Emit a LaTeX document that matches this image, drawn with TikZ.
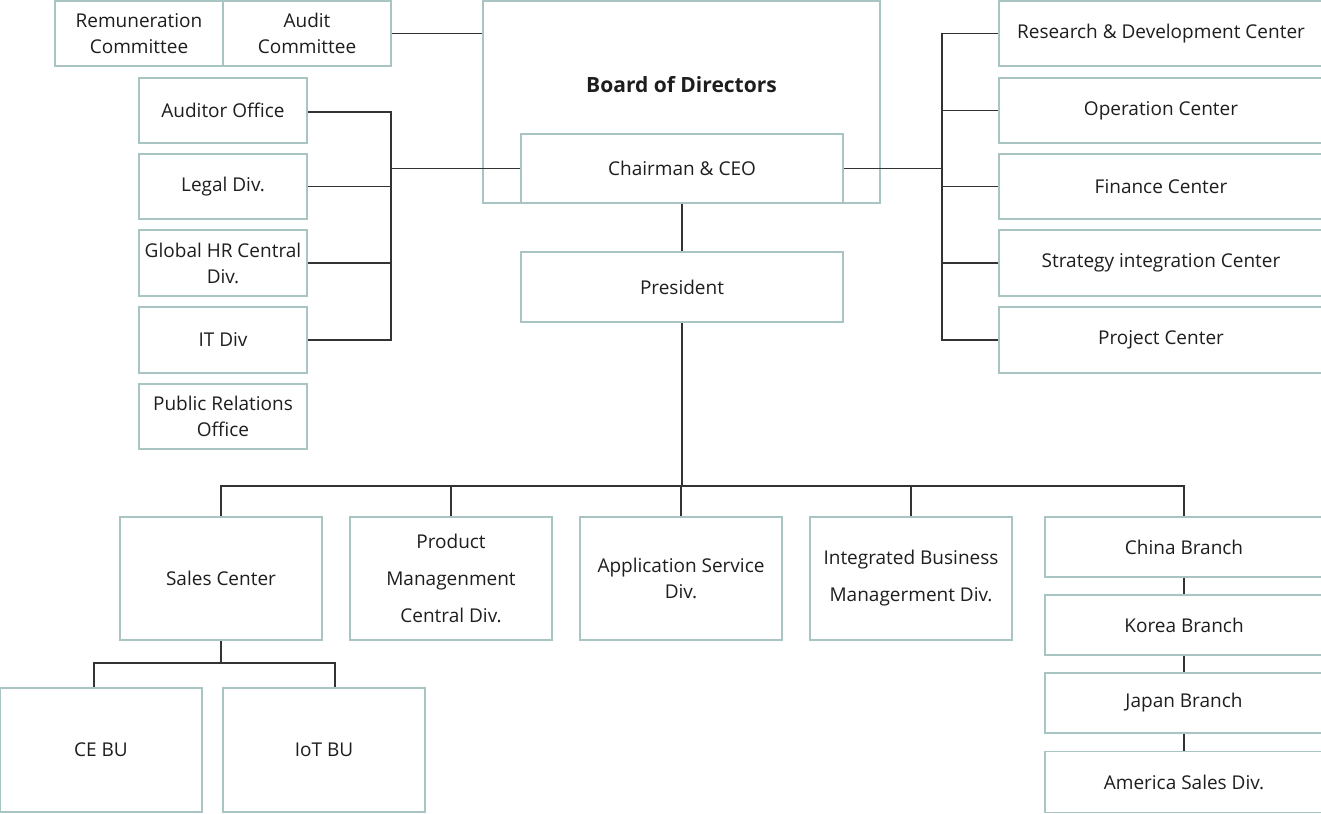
\documentclass[tikz,border=0pt]{standalone}
\usepackage{fontspec}
\setmainfont{Open Sans}
\definecolor{boxc}{HTML}{A9C5C3}
\definecolor{linec}{HTML}{333333}
\definecolor{txtc}{HTML}{1E1E1E}
\begin{document}
\begin{tikzpicture}[x=1pt,y=-1pt,
  orgbox/.style={draw=boxc, line width=1.6pt, fill=white, text=txtc, align=center, inner sep=0pt,
    font=\fontsize{19}{26}\selectfont},
  wide/.style={font=\fontsize{19}{37}\selectfont},
  conn/.style={draw=linec, line width=1.2pt}]
\useasboundingbox (0,0) rectangle (1321,813);
\fill[white] (0,0) rectangle (1321,813);
% top-left committees
\node[orgbox, minimum width=168pt, minimum height=65pt] (rem) at (139,33.5) {Remuneration\\Committee};
\node[orgbox, minimum width=168pt, minimum height=65pt] (aud) at (307,33.5) {Audit\\Committee};
% board
\node[orgbox, minimum width=397pt, minimum height=202pt] (board) at (681.5,102) {};
\node[text=txtc, font=\fontsize{21}{25}\bfseries\selectfont, inner sep=0pt] (boardtxt) at (681.5,85) {Board of Directors};
\node[orgbox, minimum width=322pt, minimum height=69pt] (ceo) at (682,168.5) {Chairman \& CEO};
\node[orgbox, minimum width=322pt, minimum height=70pt] (pres) at (682,287) {President};
% left column
\node[orgbox, minimum width=168pt, minimum height=65pt] (auditor) at (223,110.5) {Auditor Office};
\node[orgbox, minimum width=168pt, minimum height=65pt] (legal) at (223,186.5) {Legal Div.};
\node[orgbox, minimum width=168pt, minimum height=66pt] (hr) at (223,263) {Global HR Central\\Div.};
\node[orgbox, minimum width=168pt, minimum height=66pt] (it) at (223,340) {IT Div};
\node[orgbox, minimum width=168pt, minimum height=65pt] (pr) at (223,416.5) {Public Relations\\Office};
% right column
\node[orgbox, minimum width=324pt, minimum height=65pt] (rd) at (1161,33.5) {Research \& Development Center};
\node[orgbox, minimum width=324pt, minimum height=65pt] (op) at (1161,110.5) {Operation Center};
\node[orgbox, minimum width=324pt, minimum height=65pt] (fin) at (1161,186.5) {Finance Center};
\node[orgbox, minimum width=324pt, minimum height=66pt] (strat) at (1161,263) {Strategy integration Center};
\node[orgbox, minimum width=324pt, minimum height=66pt] (proj) at (1161,340) {Project Center};
% bottom row
\node[orgbox, minimum width=202pt, minimum height=123pt] (sales) at (221,578.5) {Sales Center};
\node[orgbox, wide, minimum width=202pt, minimum height=123pt] (prod) at (451,578.5) {Product\\Managenment\\Central Div.};
\node[orgbox, minimum width=202pt, minimum height=123pt] (app) at (681,578.5) {Application Service\\Div.};
\node[orgbox, wide, minimum width=202pt, minimum height=123pt] (integ) at (911,578.5) {Integrated Business\\Managerment Div.};
% branches
\node[orgbox, minimum width=278pt, minimum height=60pt] (china) at (1184,547) {China Branch};
\node[orgbox, minimum width=278pt, minimum height=60pt] (korea) at (1184,625) {Korea Branch};
\node[orgbox, minimum width=278pt, minimum height=60pt] (japan) at (1184,703) {Japan Branch};
\node[orgbox, minimum width=278pt, minimum height=61pt] (amer) at (1184,782) {America Sales Div.};
% BUs
\node[orgbox, minimum width=202pt, minimum height=124pt] (ce) at (101,750) {CE BU};
\node[orgbox, minimum width=202pt, minimum height=124pt] (iot) at (324,750) {IoT BU};
% connectors
\draw[conn] (aud.east) -- (aud.east -| board.west);
% left bus
\coordinate (lbT) at (391,112);
\coordinate (lbB) at (391,340);
\draw[conn] (auditor.east |- lbT) -- (lbT) -- (lbB) -- (it.east);
\draw[conn] (legal.east) -- (legal.east -| lbT);
\draw[conn] (hr.east) -- (hr.east -| lbT);
\draw[conn] (ceo.west) -- (ceo.west -| lbT);
% right bus
\coordinate (rbT) at (942,33.5);
\coordinate (rbB) at (942,340);
\draw[conn] (rd.west) -- (rbT) -- (rbB) -- (proj.west);
\draw[conn] (op.west) -- (op.west -| rbT);
\draw[conn] (fin.west) -- (fin.west -| rbT);
\draw[conn] (strat.west) -- (strat.west -| rbT);
\draw[conn] (ceo.east) -- (ceo.east -| rbT);
% ceo-president
\draw[conn] (ceo.south) -- (pres.north);
% bottom bus
\coordinate (bb) at (682,486);
\draw[conn] (pres.south) -- (bb);
\draw[conn] (sales.north) |- (bb) -| (china.north);
\draw[conn] (prod.north) -- (prod.north |- bb);
\draw[conn] (app.north) -- (app.north |- bb);
\draw[conn] (integ.north) -- (integ.north |- bb);
% branches chain
\draw[conn] (china.south) -- (korea.north);
\draw[conn] (korea.south) -- (japan.north);
\draw[conn] (japan.south) -- (amer.north);
% sales sub
\coordinate (sbL) at (94,663);
\coordinate (sbR) at (335,663);
\draw[conn] (sales.south) -- (sales.south |- sbL);
\draw[conn] (sbL |- ce.north) -- (sbL) -- (sbR) -- (sbR |- iot.north);
\end{tikzpicture}
\end{document}
